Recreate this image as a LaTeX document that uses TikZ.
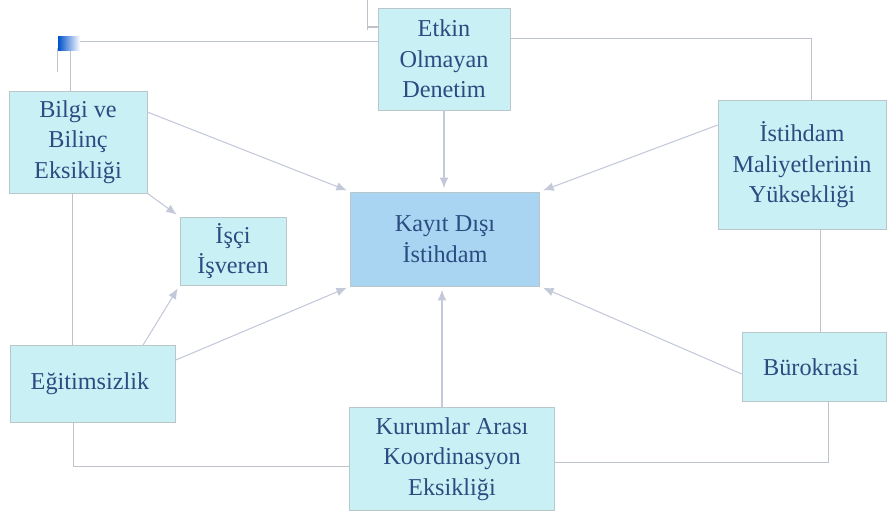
\documentclass[tikz,border=0pt]{standalone}
\usepackage{fontspec}
\setmainfont{Liberation Serif}
\usepackage{xcolor}
\usepackage{tikz}
\usetikzlibrary{arrows.meta,positioning}
\definecolor{BoxCyan}{HTML}{C9F1F5}
\definecolor{BoxBlue}{HTML}{A9D4F2}
\definecolor{BoxEdge}{HTML}{B9C6CA}
\definecolor{TextBlue}{HTML}{2A4C80}
\definecolor{LinkGray}{HTML}{BEC3CB}
\definecolor{ArrowGray}{HTML}{C3C9D8}

\begin{document}
\begin{tikzpicture}[
  x=0.02cm,y=-0.02cm,
  cause/.style={rectangle,fill=BoxCyan,draw=BoxEdge,align=center,inner sep=2pt,
                text=TextBlue,font=\fontsize{13.8}{17.4}\selectfont},
  link/.style={LinkGray,line width=0.5pt},
  arrow/.style={-{Latex[length=6pt,width=5pt]},ArrowGray,line width=0.6pt,shorten >=2pt}
]
  \useasboundingbox (0,0) rectangle (894,515);

  \node[cause,fill=BoxBlue,minimum width=3.78cm,minimum height=1.88cm] (kayit) at (445,239) {
    Kayıt Dışı\\
    İstihdam
  };
  \node[cause,minimum width=2.64cm,minimum height=2.04cm] (etkin) at (444,59) {
    Etkin\\
    Olmayan\\
    Denetim
  };
  \node[cause,minimum width=2.76cm,minimum height=2.04cm] (bilgi) at (78,142) {
    Bilgi ve\\
    Bilinç\\
    Eksikliği
  };
  \node[cause,minimum width=2.12cm,minimum height=1.36cm] (isci) at (233,251) {
    İşçi\\
    İşveren
  };
  \node[cause,minimum width=3.36cm,minimum height=2.58cm] (istihdam) at (802,165) {
    İstihdam\\
    Maliyetlerinin\\
    Yüksekliği
  };
  \node[cause,minimum width=3.3cm,minimum height=1.54cm] (egitim) at (93,384) {
    Eğitimsizlik
  };
  \node[cause,minimum width=2.88cm,minimum height=1.38cm] (buro) at (814,367) {
    Bürokrasi
  };
  \node[cause,minimum width=4.1cm,minimum height=2.06cm] (kurum) at (452,459) {
    Kurumlar Arası\\
    Koordinasyon\\
    Eksikliği
  };

  \coordinate (tl) at (70,41);
  \coordinate (tr) at (811,38);
  \coordinate (br) at (828,462);
  \coordinate (bl) at (73,466);

  \draw[link] (etkin.west |- tl) -- (tl) -- (tl |- bilgi.north);
  \draw[link] (etkin.east |- tr) -- (tr) -- (tr |- istihdam.north);
  \draw[link] (istihdam.south -| 820,0) -- (buro.north -| 820,0);
  \draw[link] (buro.south -| br) -- (br) -- (kurum.east |- br);
  \draw[link] (bilgi.south -| 72,0) -- (egitim.north -| 72,0);
  \draw[link] (egitim.south -| bl) -- (bl) -- (kurum.west |- bl);

  \shade[left color=blue!60!cyan!80!black,right color=white] (58,36) rectangle (80,50);
  \draw[link] (57,48) -- (57,72);
  \draw[link] (367,0) -- (367,30);
  \draw[LinkGray,line width=1.4pt] (367,27) -- (etkin.west |- 0,27);

  \draw[arrow] (etkin.south) -- (kayit.north -| etkin.south);
  \draw[arrow] (bilgi.east |- 0,112) -- (kayit.north west);
  \draw[arrow] (bilgi.south east) -- (isci.north west);
  \draw[arrow] (egitim.north -| 143,0) -- (isci.south west);
  \draw[arrow] (egitim.east |- 0,360) -- (kayit.south west);
  \draw[arrow] (istihdam.west |- 0,125) -- (kayit.north east);
  \draw[arrow] (buro.west |- 0,374) -- (kayit.south east);
  \draw[arrow] (kurum.north -| 442,0) -- (kayit.south -| 442,0);
\end{tikzpicture}
\end{document}
